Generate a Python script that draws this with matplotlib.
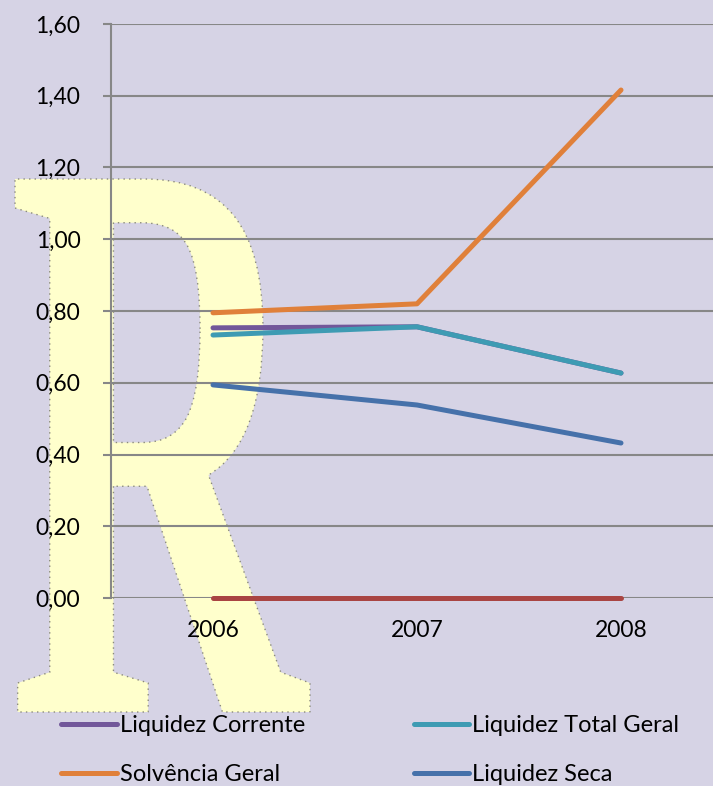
import matplotlib.pyplot as plt
from matplotlib.textpath import TextPath
from matplotlib.patches import PathPatch
from matplotlib.font_manager import FontProperties
from matplotlib.transforms import Affine2D
from matplotlib.ticker import FuncFormatter

# data
years = ["2006", "2007", "2008"]
liquidez_corrente = [0.753, 0.756, 0.627]
liquidez_total_geral = [0.733, 0.756, 0.627]
solvencia_geral = [0.795, 0.820, 1.416]
liquidez_seca = [0.594, 0.538, 0.432]
serie_zero = [0.0, 0.0, 0.0]

bg = "#D6D3E5"
grid_col = "#878787"

plt.rcParams['font.family'] = ['Lato', 'DejaVu Sans']

W, H = 713, 786
fig = plt.figure(figsize=(W / 100, H / 100), dpi=100, facecolor=bg)

# big "R" watermark behind the chart
tp = TextPath((0, 0), "R", size=1, prop=FontProperties(family="Liberation Serif", weight="bold"))
ext = tp.get_extents()
x0, x1, y0, y1 = 15, 310, 179, 712  # pixel box (from top)
sx = (x1 - x0) / W / ext.width
sy = (y1 - y0) / H / ext.height
tr = Affine2D().translate(-ext.x0, -ext.y0).scale(sx, sy).translate(x0 / W, 1 - y1 / H)
r_patch = PathPatch(tr.transform_path(tp), facecolor="#FFFFCC", edgecolor="#8a8a7a",
                    linestyle=(0, (1, 3)), linewidth=1, transform=fig.transFigure, zorder=-1)
fig.patches.append(r_patch)

ax = fig.add_axes([111 / W, (H - 598) / H, 612 / W, 574 / H])
ax.set_facecolor("none")

x = list(range(len(years)))
lw = 3.6
l1, = ax.plot(x, liquidez_corrente, color="#72579A", lw=lw, solid_capstyle="round", label="Liquidez Corrente")
l2, = ax.plot(x, liquidez_total_geral, color="#3E9BB3", lw=lw, solid_capstyle="round", label="Liquidez Total Geral")
l3, = ax.plot(x, solvencia_geral, color="#E0803A", lw=lw, solid_capstyle="round", label="Solvência Geral")
l4, = ax.plot(x, liquidez_seca, color="#4671AA", lw=lw, solid_capstyle="round", label="Liquidez Seca")
ax.plot(x, serie_zero, color="#A94442", lw=lw, solid_capstyle="round", clip_on=False)

ax.set_xlim(-0.5, 2.5)
ax.set_ylim(0, 1.6)
ax.set_yticks([0.2 * i for i in range(9)])
ax.yaxis.set_major_formatter(FuncFormatter(lambda v, p: f"{v:.2f}".replace(".", ",")))
ax.set_xticks(x)
ax.set_xticklabels(years)

ax.grid(axis="y", color=grid_col, lw=1.5)
ax.set_axisbelow(True)
for s in ["top", "right", "bottom"]:
    ax.spines[s].set_visible(False)
ax.spines["left"].set_color(grid_col)
ax.spines["left"].set_linewidth(1.5)
ax.tick_params(axis="y", length=6, width=1.5, color=grid_col, pad=16, labelsize=16.5)
ax.tick_params(axis="x", length=0, pad=16, labelsize=16.5)

fig.legend([l1, l3, l2, l4], [l1.get_label(), l3.get_label(), l2.get_label(), l4.get_label()],
           ncol=2, loc="upper left", bbox_to_anchor=(40 / W, 1 - 694 / H),
           frameon=False, fontsize=17, handlelength=2.35, handletextpad=0.13,
           columnspacing=4.6, labelspacing=1.18)

fig.savefig("out.png", dpi=100, facecolor=bg)
